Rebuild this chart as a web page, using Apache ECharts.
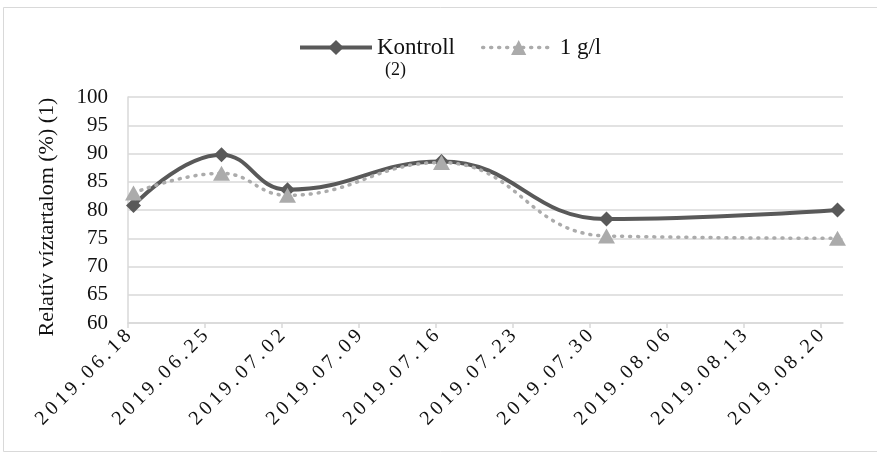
<!DOCTYPE html>
<html>
<head>
<meta charset="utf-8">
<script src="https://cdn.jsdelivr.net/npm/echarts@6/dist/echarts.min.js"></script>
<style>
  html, body { margin: 0; padding: 0; background: #fff; }
  #chart { width: 877px; height: 454px; }
</style>
</head>
<body>
<div id="chart"></div>
<script>
// Measurement dates and relative water content (%)
const sampleDates = ['2019-06-18', '2019-06-26', '2019-07-02', '2019-07-16', '2019-07-31', '2019-08-21'];
const kontrollValues = [80.8, 89.8, 83.6, 88.6, 78.4, 80.0];
const treatedValues = [83.0, 86.5, 82.6, 88.4, 75.4, 75.0];

// Weekly tick labels along the date axis
const tickLabels = ['2019.06.18', '2019.06.25', '2019.07.02', '2019.07.09', '2019.07.16',
                    '2019.07.23', '2019.07.30', '2019.08.06', '2019.08.13', '2019.08.20'];

const seriesNames = ['Kontroll', '1 g/l'];
const yTitle = 'Relatív víztartalom (%) (1)';
const legendNote = '(2)';

const FONT = '"Liberation Serif", "DejaVu Serif", serif';
const DAY = 86400000;
const startTime = Date.parse(sampleDates[0]);
// day offset from the first sampling day, centred within the day
const dayPos = d => (Date.parse(d) - startTime) / DAY + 0.5;

const tickValues = tickLabels.map((_, i) => i * 7);
const spaced = s => s.split('').join('\u2009');

const chart = echarts.init(document.getElementById('chart'));
chart.setOption({
  animation: false,
  backgroundColor: '#fff',
  textStyle: { fontFamily: FONT },
  grid: { left: 128, right: 34, top: 97, bottom: 131 },
  legend: {
    top: 31,
    left: 293,
    itemWidth: 72,
    itemHeight: 19,
    itemGap: 26,
    lineStyle: { width: 'inherit' },
    textStyle: { fontFamily: FONT, fontSize: 23, color: '#111' },
    data: seriesNames
  },
  xAxis: {
    type: 'value',
    min: 0,
    max: 65,
    interval: 7,
    splitLine: { show: false },
    axisLine: { lineStyle: { color: '#d9d9d9', width: 1.5 } },
    axisTick: { customValues: tickValues, length: 5, lineStyle: { color: '#d9d9d9', width: 1.5 } },
    axisLabel: {
      customValues: tickValues,
      rotate: 45,
      margin: 10,
      fontFamily: FONT,
      fontSize: 20,
      color: '#111',
      formatter: v => spaced(tickLabels[Math.round(v / 7)] || '')
    }
  },
  yAxis: {
    type: 'value',
    min: 60,
    max: 100,
    interval: 5,
    name: yTitle,
    nameLocation: 'middle',
    nameGap: 70,
    nameTextStyle: { fontFamily: FONT, fontSize: 22, color: '#111', padding: [0, 14, 0, 0] },
    axisLine: { show: true, lineStyle: { color: '#d9d9d9', width: 1.5 } },
    axisTick: { show: false },
    splitLine: { lineStyle: { color: '#d9d9d9', width: 1.5 } },
    axisLabel: { fontFamily: FONT, fontSize: 21, color: '#111', margin: 20 }
  },
  series: [
    {
      name: seriesNames[0],
      type: 'line',
      smooth: 0.45,
      data: sampleDates.map((d, i) => [dayPos(d), kontrollValues[i]]),
      symbol: 'diamond',
      symbolSize: 15,
      lineStyle: { color: '#595959', width: 4 },
      itemStyle: { color: '#595959' },
      z: 2
    },
    {
      name: seriesNames[1],
      type: 'line',
      smooth: 0.45,
      data: sampleDates.map((d, i) => [dayPos(d), treatedValues[i]]),
      symbol: 'triangle',
      symbolSize: [17, 15],
      lineStyle: { color: '#ababab', width: 3.5, type: [1, 7], cap: 'round' },
      itemStyle: { color: '#ababab' },
      z: 3
    }
  ],
  graphic: [
    {
      type: 'rect',
      shape: { x: 3.5, y: 7.5, width: 900, height: 444 },
      style: { fill: null, stroke: '#d9d9d9', lineWidth: 1 },
      silent: true
    },
    {
      type: 'text',
      left: 385,
      top: 61,
      style: { text: legendNote, fontFamily: FONT, fontSize: 18, fill: '#111' }
    }
  ]
});
</script>
</body>
</html>
